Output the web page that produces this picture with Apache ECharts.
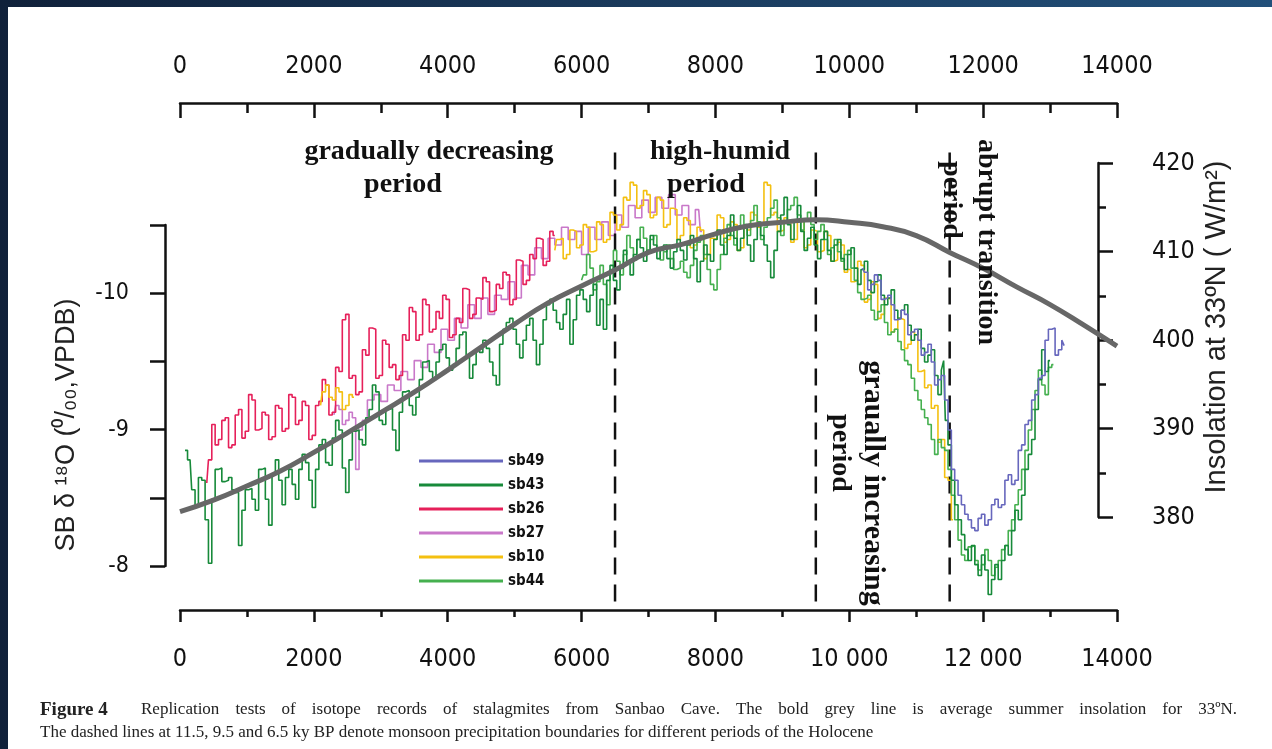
<!DOCTYPE html>
<html><head><meta charset="utf-8">
<script src="https://cdn.jsdelivr.net/npm/echarts/dist/echarts.min.js"></script>
<style>
html,body{margin:0;padding:0;background:#15283d;}
#wrap{position:relative;width:1272px;height:749px;background:linear-gradient(90deg,#10213a 0%,#1a3a5c 50%,#22507a 100%);overflow:hidden;}
#panel{position:absolute;left:8px;top:7px;right:0;bottom:0;background:#fff;}
#c{position:absolute;left:0;top:0;width:1272px;height:749px;}
</style>
</head><body>
<div id="wrap"><div id="panel"></div><div id="c"></div></div>
<script>
// ---------------- DATA ----------------
const xTickValues = [0, 2000, 4000, 6000, 8000, 10000, 12000, 14000];
const topTickLabels = ['0', '2000', '4000', '6000', '8000', '10000', '12000', '14000'];
const bottomTickLabels = ['0', '2000', '4000', '6000', '8000', '10 000', '12 000', '14000'];
const leftTickValues = [-10, -9, -8];
const leftTickLabels = ['-10', '-9', '-8'];
const rightTickValues = [380, 390, 400, 410, 420];
const rightTickLabels = ['380', '390', '400', '410', '420'];
const boundaryYears = [6500, 9500, 11500];

const insolYears = [0,500,1000,1500,2000,2500,3000,3500,4000,4500,5000,5500,6000,6500,7000,7500,8000,8500,9000,9500,10000,10500,11000,11500,12000,12500,13000,13500,14000];
const insolValues = [380.6,381.9,383.5,385.2,387.3,389.5,391.8,394.1,396.6,399.2,401.8,404.2,406.1,407.9,409.9,410.8,412.0,412.9,413.3,413.6,413.3,412.8,411.8,409.9,408.1,406.0,404.0,401.7,399.3];

const sb26 = [[400,-8.61],[450,-8.78],[500,-9.04],[550,-8.89],[600,-8.93],[650,-9.07],[700,-9.09],[750,-8.87],[800,-8.89],[850,-9.11],[900,-9.15],[950,-8.94],[1000,-8.99],[1050,-9.26],[1100,-9.22],[1150,-9.00],[1200,-9.01],[1250,-9.13],[1300,-9.11],[1350,-8.93],[1400,-8.95],[1450,-9.18],[1500,-9.16],[1550,-8.99],[1600,-9.01],[1650,-9.26],[1700,-9.24],[1750,-9.04],[1800,-9.07],[1850,-9.21],[1900,-9.18],[1950,-8.93],[2000,-8.96],[2050,-9.18],[2100,-9.21],[2150,-9.37],[2200,-9.33],[2250,-9.11],[2300,-9.13],[2350,-9.46],[2400,-9.43],[2450,-9.81],[2500,-9.85],[2550,-9.38],[2600,-9.40],[2650,-9.26],[2700,-9.28],[2750,-9.59],[2800,-9.55],[2850,-9.75],[2900,-9.74],[2950,-9.38],[3000,-9.40],[3050,-9.66],[3100,-9.63],[3150,-9.46],[3200,-9.48],[3250,-9.37],[3300,-9.40],[3350,-9.70],[3400,-9.66],[3450,-9.90],[3500,-9.87],[3550,-9.66],[3600,-9.70],[3650,-9.96],[3700,-9.92],[3750,-9.72],[3800,-9.74],[3850,-9.87],[3900,-9.82],[3950,-9.99],[4000,-9.96],[4050,-9.68],[4100,-9.70],[4150,-9.82],[4200,-9.79],[4250,-10.04],[4300,-10.03],[4350,-9.82],[4400,-9.85],[4450,-9.97],[4500,-9.96],[4550,-10.12],[4600,-10.09],[4650,-9.87],[4700,-9.88],[4750,-10.07],[4800,-10.04],[4850,-10.16],[4900,-10.14],[4950,-9.92],[5000,-9.96],[5050,-10.25],[5100,-10.24],[5150,-10.07],[5200,-10.10],[5250,-10.29],[5300,-10.26],[5350,-10.41],[5400,-10.40],[5450,-10.21],[5500,-10.24],[5550,-10.46],[5600,-10.43]];

const sb27 = [[2300,-9.11],[2350,-9.18],[2400,-9.15],[2450,-9.04],[2500,-9.07],[2550,-9.13],[2600,-9.09],[2650,-8.71],[2700,-9.00],[2750,-9.07],[2850,-9.22],[2950,-9.26],[3050,-9.21],[3150,-9.33],[3250,-9.29],[3350,-9.43],[3450,-9.37],[3550,-9.51],[3650,-9.46],[3750,-9.63],[3850,-9.57],[3950,-9.74],[4050,-9.66],[4150,-9.82],[4250,-9.75],[4350,-9.92],[4450,-9.82],[4550,-9.97],[4650,-9.85],[4750,-9.99],[4850,-9.96],[4950,-10.09],[5050,-9.97],[5150,-10.21],[5250,-10.14],[5350,-10.34],[5450,-10.26],[5550,-10.41],[5650,-10.36],[5750,-10.49],[5850,-10.40],[5950,-10.46],[6050,-10.29],[6150,-10.49],[6250,-10.40],[6350,-10.53],[6450,-10.43],[6550,-10.58],[6650,-10.49],[6750,-10.65],[6850,-10.56],[6950,-10.69],[7050,-10.60],[7150,-10.71],[7250,-10.63],[7350,-10.73],[7450,-10.58],[7550,-10.65],[7650,-10.51],[7750,-10.62],[7800,-10.46]];

const sb10a = [[2100,-9.18],[2150,-9.28],[2200,-9.33],[2250,-9.24],[2300,-9.22],[2350,-9.31],[2400,-9.28],[2450,-9.15],[2500,-9.18],[2550,-9.26],[2600,-9.24]];
const sb10b = [[5600,-10.32],[5650,-10.40],[5700,-10.41],[5750,-10.26],[5800,-10.29],[5850,-10.47],[5900,-10.46],[5950,-10.34],[6000,-10.36],[6050,-10.51],[6100,-10.49],[6150,-10.31],[6200,-10.32],[6250,-10.53],[6300,-10.51],[6350,-10.38],[6400,-10.40],[6450,-10.60],[6500,-10.58],[6550,-10.47],[6600,-10.51],[6650,-10.71],[6700,-10.69],[6750,-10.82],[6800,-10.80],[6850,-10.63],[6900,-10.65],[6950,-10.76],[7000,-10.73],[7050,-10.56],[7100,-10.58],[7150,-10.71],[7200,-10.69],[7250,-10.49],[7300,-10.51],[7350,-10.63],[7400,-10.62],[7450,-10.40],[7500,-10.43],[7550,-10.56],[7600,-10.54],[7650,-10.34],[7700,-10.36],[7750,-10.49],[7800,-10.47],[7850,-10.26],[7900,-10.29],[7950,-10.41],[8000,-10.40],[8050,-10.58],[8100,-10.56],[8150,-10.38],[8200,-10.40],[8250,-10.53],[8300,-10.51],[8350,-10.32],[8400,-10.34],[8450,-10.49],[8500,-10.47],[8550,-10.60],[8600,-10.58],[8650,-10.49],[8700,-10.51],[8750,-10.82],[8800,-10.80],[8850,-10.58],[8900,-10.60],[8950,-10.46],[9000,-10.47],[9050,-10.56],[9100,-10.54],[9150,-10.38],[9200,-10.40],[9250,-10.54],[9300,-10.53],[9350,-10.34],[9400,-10.36],[9450,-10.47],[9500,-10.46],[9550,-10.31],[9600,-10.32],[9650,-10.46],[9700,-10.43],[9750,-10.24],[9800,-10.25],[9850,-10.38],[9900,-10.36],[9950,-10.16],[10000,-10.18],[10050,-10.09],[10100,-10.10],[10150,-10.24],[10200,-10.21],[10250,-9.94],[10300,-9.96],[10350,-10.09],[10400,-10.07],[10450,-9.82],[10500,-9.85],[10550,-9.97],[10600,-9.96],[10650,-9.72],[10700,-9.74],[10750,-9.82],[10800,-9.81],[10850,-9.60],[10900,-9.63],[10950,-9.72],[11000,-9.70],[11050,-9.43],[11100,-9.44],[11150,-9.31],[11200,-9.33],[11250,-9.16],[11300,-9.18],[11350,-8.91],[11400,-8.93],[11450,-8.65],[11500,-8.63],[11550,-8.34]];

const sb49 = [[10200,-10.19],[10250,-10.16],[10300,-10.03],[10350,-10.07],[10400,-10.14],[10450,-10.10],[10500,-9.96],[10550,-9.97],[10600,-9.99],[10650,-9.92],[10700,-9.81],[10750,-9.82],[10800,-9.88],[10850,-9.85],[10900,-9.70],[10950,-9.72],[11000,-9.74],[11050,-9.66],[11100,-9.55],[11150,-9.57],[11200,-9.63],[11250,-9.50],[11300,-9.33],[11350,-9.37],[11400,-9.40],[11450,-9.22],[11500,-9.00],[11550,-8.71],[11600,-8.63],[11650,-8.52],[11700,-8.45],[11750,-8.38],[11800,-8.34],[11850,-8.28],[11900,-8.26],[11950,-8.35],[12000,-8.38],[12050,-8.30],[12100,-8.34],[12150,-8.45],[12200,-8.49],[12250,-8.43],[12300,-8.45],[12350,-8.63],[12400,-8.67],[12450,-8.60],[12500,-8.63],[12550,-8.85],[12600,-8.89],[12650,-9.04],[12700,-9.07],[12750,-9.22],[12800,-9.26],[12850,-9.38],[12900,-9.40],[12950,-9.66],[13000,-9.74],[13050,-9.75],[13100,-9.55],[13150,-9.59],[13200,-9.66],[13220,-9.62]];

const sb43 = [[75,-8.85],[150,-8.78],[200,-8.56],[250,-8.45],[300,-8.65],[350,-8.63],[400,-8.34],[450,-8.02],[500,-8.49],[550,-8.71],[600,-8.72],[650,-8.62],[700,-8.63],[750,-8.65],[800,-8.56],[850,-8.54],[900,-8.15],[950,-8.41],[1000,-8.56],[1050,-8.57],[1100,-8.49],[1150,-8.41],[1200,-8.71],[1250,-8.72],[1300,-8.49],[1350,-8.30],[1400,-8.67],[1450,-8.78],[1500,-8.63],[1550,-8.45],[1600,-8.65],[1650,-8.71],[1700,-8.60],[1750,-8.49],[1800,-8.71],[1850,-8.82],[1900,-8.76],[1950,-8.63],[2000,-8.43],[2050,-8.71],[2100,-8.89],[2150,-8.93],[2200,-8.76],[2250,-8.74],[2300,-8.94],[2350,-9.07],[2400,-9.00],[2450,-8.72],[2500,-8.54],[2550,-8.78],[2600,-8.99],[2650,-9.00],[2700,-8.93],[2750,-8.89],[2800,-9.09],[2850,-9.15],[2900,-9.33],[2950,-9.28],[3000,-9.07],[3050,-9.04],[3100,-9.15],[3150,-9.16],[3200,-9.00],[3250,-8.85],[3300,-9.13],[3350,-9.28],[3400,-9.29],[3450,-9.18],[3500,-9.11],[3550,-9.24],[3600,-9.37],[3650,-9.50],[3700,-9.51],[3750,-9.43],[3800,-9.37],[3850,-9.50],[3900,-9.59],[3950,-9.63],[4000,-9.53],[4050,-9.44],[4100,-9.48],[4150,-9.60],[4200,-9.70],[4250,-9.72],[4300,-9.55],[4350,-9.38],[4400,-9.48],[4450,-9.59],[4500,-9.57],[4550,-9.66],[4600,-9.60],[4650,-9.50],[4700,-9.40],[4750,-9.33],[4800,-9.63],[4850,-9.74],[4900,-9.79],[4950,-9.82],[5000,-9.74],[5050,-9.63],[5100,-9.53],[5150,-9.66],[5200,-9.77],[5250,-9.82],[5300,-9.66],[5350,-9.48],[5400,-9.63],[5450,-9.81],[5500,-9.92],[5550,-9.96],[5600,-9.88],[5650,-9.79],[5700,-9.74],[5750,-9.85],[5800,-9.96],[5850,-9.63],[5900,-9.81],[5950,-9.99],[6000,-10.03],[6050,-9.96],[6100,-9.87],[6150,-9.99],[6200,-10.07],[6250,-9.77],[6300,-9.96],[6350,-9.74],[6400,-10.10],[6450,-10.21],[6500,-10.10],[6550,-10.03],[6600,-10.19],[6650,-10.32],[6700,-10.24],[6750,-10.14],[6800,-10.29],[6850,-10.40],[6900,-10.34],[6950,-10.24],[7000,-10.32],[7050,-10.43],[7100,-10.36],[7150,-10.26],[7200,-10.32],[7250,-10.36],[7300,-10.26],[7350,-10.19],[7400,-10.31],[7450,-10.40],[7500,-10.32],[7550,-10.25],[7600,-10.36],[7650,-10.43],[7700,-10.26],[7750,-10.09],[7800,-10.24],[7850,-10.36],[7900,-10.29],[7950,-10.24],[8000,-10.40],[8050,-10.47],[8100,-10.36],[8150,-10.29],[8200,-10.43],[8250,-10.58],[8300,-10.41],[8350,-10.32],[8400,-10.41],[8450,-10.49],[8500,-10.36],[8550,-10.24],[8600,-10.40],[8650,-10.51],[8700,-10.43],[8750,-10.36],[8800,-10.24],[8850,-10.12],[8900,-10.32],[8950,-10.46],[9000,-10.58],[9050,-10.71],[9100,-10.51],[9150,-10.40],[9200,-10.53],[9250,-10.65],[9300,-10.46],[9350,-10.32],[9400,-10.41],[9450,-10.49],[9500,-10.36],[9550,-10.26],[9600,-10.40],[9650,-10.46],[9700,-10.32],[9750,-10.24],[9800,-10.36],[9850,-10.40],[9900,-10.26],[9950,-10.18],[10000,-10.29],[10050,-10.34],[10100,-10.19],[10150,-10.07],[10200,-10.18],[10250,-10.24],[10300,-10.10],[10350,-10.01],[10400,-10.09],[10450,-10.14],[10500,-9.99],[10550,-9.92],[10600,-9.97],[10650,-10.03],[10700,-9.88],[10750,-9.82],[10800,-9.88],[10850,-9.92],[10900,-9.77],[10950,-9.66],[11000,-9.70],[11050,-9.74],[11100,-9.60],[11150,-9.50],[11200,-9.55],[11250,-9.59],[11300,-9.40],[11350,-9.26],[11400,-9.44],[11420,-9.51],[11450,-9.07],[11500,-8.89],[11550,-8.63],[11600,-8.45],[11650,-8.34],[11700,-8.23],[11750,-8.12],[11800,-8.04],[11850,-8.15],[11900,-8.01],[11950,-7.93],[12000,-8.08],[12050,-7.97],[12100,-7.79],[12150,-7.90],[12200,-8.01],[12250,-7.90],[12300,-8.04],[12350,-8.15],[12400,-8.08],[12450,-8.26],[12500,-8.41],[12550,-8.34],[12600,-8.52],[12650,-8.71],[12700,-8.82],[12750,-8.93],[12800,-9.15],[12850,-9.37],[12900,-9.59],[12950,-9.43],[13000,-9.51]];

const sb44 = [[6000,-10.10],[6050,-10.14],[6100,-10.29],[6150,-10.19],[6200,-10.03],[6250,-10.09],[6300,-10.21],[6350,-10.07],[6400,-9.92],[6450,-10.18],[6500,-10.32],[6550,-10.24],[6600,-10.14],[6650,-10.29],[6700,-10.43],[6750,-10.34],[6800,-10.25],[6850,-10.40],[6900,-10.49],[6950,-10.41],[7000,-10.32],[7050,-10.40],[7100,-10.43],[7150,-10.34],[7200,-10.25],[7250,-10.31],[7300,-10.36],[7350,-10.26],[7400,-10.18],[7450,-10.19],[7500,-10.24],[7550,-10.16],[7600,-10.12],[7650,-10.21],[7700,-10.32],[7750,-10.38],[7800,-10.43],[7850,-10.29],[7900,-10.18],[7950,-10.07],[8000,-10.03],[8050,-10.18],[8100,-10.29],[8150,-10.41],[8200,-10.51],[8250,-10.43],[8300,-10.36],[8350,-10.49],[8400,-10.58],[8450,-10.51],[8500,-10.43],[8550,-10.54],[8600,-10.65],[8650,-10.53],[8700,-10.40],[8750,-10.49],[8800,-10.56],[8850,-10.63],[8900,-10.69],[8950,-10.56],[9000,-10.43],[9050,-10.53],[9100,-10.62],[9150,-10.65],[9200,-10.71],[9250,-10.58],[9300,-10.47],[9350,-10.54],[9400,-10.60],[9450,-10.51],[9500,-10.40],[9550,-10.46],[9600,-10.51],[9650,-10.40],[9700,-10.29],[9750,-10.34],[9800,-10.40],[9850,-10.31],[9900,-10.24],[9950,-10.29],[10000,-10.32],[10050,-10.19],[10100,-10.10],[10150,-10.01],[10200,-9.96],[10250,-9.97],[10300,-9.99],[10350,-9.88],[10400,-9.81],[10450,-9.87],[10500,-9.92],[10550,-9.79],[10600,-9.70],[10650,-9.72],[10700,-9.74],[10750,-9.65],[10800,-9.59],[10850,-9.51],[10900,-9.48],[10950,-9.38],[11000,-9.29],[11050,-9.22],[11100,-9.15],[11150,-9.09],[11200,-9.04],[11250,-8.93],[11300,-8.82],[11350,-8.93],[11400,-8.87],[11450,-8.85],[11500,-8.71],[11550,-8.52],[11600,-8.34],[11650,-8.19],[11700,-8.08],[11750,-8.04],[11800,-8.14],[11850,-8.15],[11900,-8.04],[11950,-7.97],[12000,-8.01],[12050,-8.12],[12100,-8.04],[12150,-7.93],[12200,-7.99],[12250,-8.04],[12300,-8.12],[12350,-8.15],[12400,-8.26],[12450,-8.34],[12500,-8.45],[12550,-8.56],[12600,-8.71],[12650,-8.85],[12700,-9.00],[12750,-9.15],[12800,-9.29],[12850,-9.44],[12900,-9.33],[12950,-9.26],[13000,-9.46],[13050,-9.48]];

const legendNames = ['sb49', 'sb43', 'sb26', 'sb27', 'sb10', 'sb44'];

const captionTitle = 'Figure 4';
const captionLine1 = 'Replication tests of isotope records of stalagmites from Sanbao Cave. The bold grey line is average summer insolation for 33ºN.';
const captionLine2 = 'The dashed lines at 11.5, 9.5 and 6.5 ky BP denote monsoon precipitation boundaries for different periods of the Holocene';

// ---------------- STYLE / LAYOUT ----------------
const C = {sb49:'#6767bd', sb43:'#178a3a', sb26:'#e6205a', sb27:'#c978c9', sb10:'#f4c010', sb44:'#45b04f'};
const INK = '#111';
const tickFont = "'DejaVu Sans Condensed','Liberation Sans Narrow','Arial Narrow','DejaVu Sans',sans-serif";
const serif = "'Liberation Serif','Times New Roman',serif";
const sans = "'Liberation Sans',Arial,sans-serif";
const AX_W = 2.5;

const chart = echarts.init(document.getElementById('c'), null, {renderer:'canvas'});

function recSeries(name, data, color, z) {
  return {type:'line', name, data, xAxisIndex:0, yAxisIndex:0, symbol:'none', step:'middle',
    lineStyle:{color, width:1.6}, itemStyle:{color}, z, silent:true};
}
const dashSeries = boundaryYears.map(yr => ({
  type:'line', data:[[yr, -11.04], [yr, -7.68]], xAxisIndex:0, yAxisIndex:0, symbol:'none',
  lineStyle:{color:INK, width:2.5, type:[17, 10]}, z:3, silent:true
}));

function xLabel(arr) { return v => { const i = xTickValues.indexOf(v); return i >= 0 ? arr[i] : ''; }; }

function textEl(text, x, y, size, opts) {
  opts = opts || {};
  return {type:'text', x, y, rotation: opts.rot || 0, silent:true, z:50,
    style:{text, fontSize:size, fontFamily: opts.family || serif, fontWeight: opts.weight || 'bold',
      fill: opts.fill || INK, align: opts.align || 'center', verticalAlign:'middle'}};
}

function justify(words, x0, x1, y, size) {
  const ctx = document.createElement('canvas').getContext('2d');
  ctx.font = size + 'px ' + serif;
  const widths = words.map(w => ctx.measureText(w).width);
  const total = widths.reduce((a, b) => a + b, 0);
  const gap = (x1 - x0 - total) / (words.length - 1);
  let x = x0; const els = [];
  words.forEach((w, i) => { els.push(textEl(w, x, y, size, {weight:'normal', align:'left', fill:'#222'})); x += widths[i] + gap; });
  return els;
}

const graphics = [
  textEl('gradually decreasing', 429, 152, 28),
  textEl('period', 403, 185, 28),
  textEl('high-humid', 720, 152, 28),
  textEl('period', 706, 185, 28),
  textEl('abrupt transition', 986, 242, 28, {rot:-Math.PI/2}),
  textEl('period', 951, 200, 28, {rot:-Math.PI/2}),
  textEl('graually increasing', 873, 483, 30, {rot:-Math.PI/2}),
  textEl('period', 840, 453, 28, {rot:-Math.PI/2}),
  textEl('SB δ ¹⁸O (⁰/₀₀,VPDB)', 67, 425, 27, {rot:Math.PI/2, family:sans, weight:'normal', fill:'#222'}),
  textEl('Insolation at 33ºN ( W/m²)', 1217, 327, 29, {rot:Math.PI/2, family:sans, weight:'normal', fill:'#222'}),
  textEl(captionTitle, 40, 710, 19, {align:'left', fill:'#222'}),
  ...justify(captionLine1.split(' '), 141, 1237, 710, 17),
  textEl(captionLine2, 40, 733, 17, {align:'left', weight:'normal', fill:'#222'})
];

const axisLineStyle = {color:INK, width:AX_W};

const option = {
  animation:false,
  grid:[
    {left:180, right:155, top:103, bottom:139},
    {left:165, width:20, top:225, height:341},
    {left:1098, width:20, top:163, height:354}
  ],
  xAxis:[
    {gridIndex:0, type:'value', position:'bottom', min:0, max:14000, interval:2000,
      axisLine:{show:true, onZero:false, lineStyle:axisLineStyle},
      axisTick:{show:true, inside:false, length:12, lineStyle:{color:INK, width:AX_W}},
      minorTick:{show:true, splitNumber:2, length:7, lineStyle:{color:INK, width:AX_W}},
      splitLine:{show:false},
      axisLabel:{margin:37, fontSize:25, fontFamily:tickFont, color:INK, formatter:xLabel(bottomTickLabels)}},
    {gridIndex:0, type:'value', position:'top', min:0, max:14000, interval:2000,
      axisLine:{show:true, onZero:false, lineStyle:axisLineStyle},
      axisTick:{show:true, inside:true, length:15, lineStyle:{color:INK, width:AX_W}},
      minorTick:{show:true, splitNumber:2, length:10, lineStyle:{color:INK, width:AX_W}},
      splitLine:{show:false},
      axisLabel:{margin:24, fontSize:25, fontFamily:tickFont, color:INK, formatter:xLabel(topTickLabels)}},
    {gridIndex:1, type:'value', show:false, min:0, max:1},
    {gridIndex:2, type:'value', show:false, min:0, max:1}
  ],
  yAxis:[
    {gridIndex:0, type:'value', show:false, min:-11.404, max:-7.676, inverse:true, splitLine:{show:false}},
    {gridIndex:0, type:'value', show:false, min:369.49, max:426.78, splitLine:{show:false}},
    {gridIndex:1, type:'value', position:'left', min:-10.5, max:-8, interval:0.5, inverse:true,
      axisLine:{show:true, lineStyle:axisLineStyle},
      axisTick:{show:true, inside:false, length:15, lineStyle:{color:INK, width:AX_W}},
      splitLine:{show:false},
      axisLabel:{margin:36, fontSize:23, fontFamily:tickFont, color:INK,
        formatter: v => { const i = leftTickValues.findIndex(t => Math.abs(t - v) < 1e-6); return i >= 0 ? leftTickLabels[i] : ''; }}},
    {gridIndex:2, type:'value', position:'right', min:380, max:420, interval:10,
      axisLine:{show:true, lineStyle:axisLineStyle},
      axisTick:{show:true, inside:false, length:15, lineStyle:{color:INK, width:AX_W}},
      minorTick:{show:true, splitNumber:2, length:8, lineStyle:{color:INK, width:AX_W}},
      splitLine:{show:false},
      axisLabel:{margin:34, fontSize:25, fontFamily:tickFont, color:INK,
        formatter: v => { const i = rightTickValues.indexOf(v); return i >= 0 ? rightTickLabels[i] : ''; }}}
  ],
  legend:{data:legendNames, orient:'vertical', left:414, top:448, icon:'rect', itemWidth:84, itemHeight:3, itemGap:8,
    selectedMode:false, textStyle:{fontFamily:tickFont, fontWeight:'bold', fontSize:15, lineHeight:16, color:INK}},
  series:[
    recSeries('sb27', sb27, C.sb27, 2),
    recSeries('sb26', sb26, C.sb26, 3),
    recSeries('sb10', sb10a, C.sb10, 4),
    recSeries('sb10', sb10b, C.sb10, 4),
    recSeries('sb44', sb44, C.sb44, 5),
    recSeries('sb43', sb43, C.sb43, 6),
    recSeries('sb49', sb49, C.sb49, 7),
    ...dashSeries,
    {type:'line', name:'insolation', data: insolYears.map((y, i) => [y, insolValues[i]]), xAxisIndex:0, yAxisIndex:1,
      symbol:'none', smooth:true, lineStyle:{color:'#676767', width:5}, z:10, silent:true}
  ],
  graphic: graphics
};
chart.setOption(option);
</script>
</body></html>
